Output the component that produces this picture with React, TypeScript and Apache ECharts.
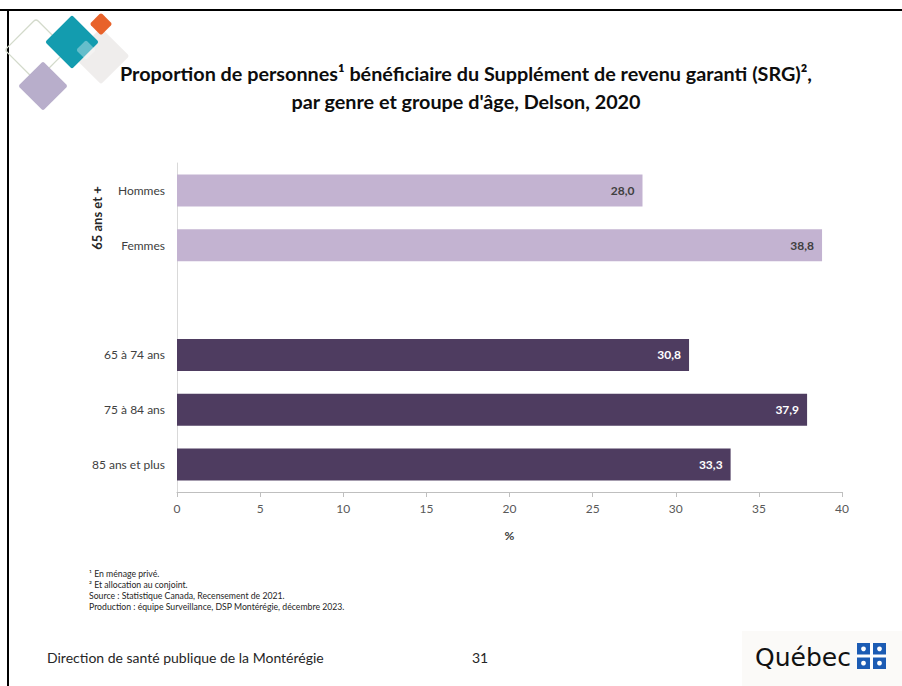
import React, { useEffect, useRef } from "react";
import * as echarts from "echarts";

const categories = ["Hommes", "Femmes", "", "65 à 74 ans", "75 à 84 ans", "85 ans et plus"];
const values: (number | null)[] = [28.0, 38.8, null, 30.8, 37.9, 33.3];
const barColors = ["#C3B3D1", "#C3B3D1", "#C3B3D1", "#4E3C60", "#4E3C60", "#4E3C60"];
const labelColors = ["#404040", "#404040", "#404040", "#FFFFFF", "#FFFFFF", "#FFFFFF"];
const xTicks = { min: 0, max: 40, interval: 5 };
const groupLabel = "65 ans et +";
const titleLines = [
  "Proportion de personnes¹ bénéficiaire du Supplément de revenu garanti (SRG)²,",
  "par genre et groupe d'âge, Delson, 2020",
];
const footnotes = [
  "¹ En ménage privé.",
  "² Et allocation au conjoint.",
  "Source : Statistique Canada, Recensement de 2021.",
  "Production : équipe Surveillance, DSP Montérégie, décembre 2023.",
];
const footerLeft = "Direction de santé publique de la Montérégie";
const pageNumber = "31";
const FONT = "Lato, 'Open Sans', sans-serif";

function diamond(cx: number, cy: number, side: number, fill: string, extra: any = {}) {
  return {
    type: "rect",
    x: cx,
    y: cy,
    rotation: Math.PI / 4,
    shape: { x: -side / 2, y: -side / 2, width: side, height: side, r: 2 },
    style: { fill, ...extra },
    silent: true,
  };
}

export default function App() {
  const ref = useRef<HTMLDivElement>(null);
  useEffect(() => {
    if (!ref.current) return;
    const chart = echarts.init(ref.current, null, { renderer: "svg" });
    const flagX = 857;
    const flagY = 643;
    const flag: any[] = [];
    flag.push({ type: "rect", shape: { x: flagX, y: flagY, width: 29, height: 26 }, style: { fill: "#1C5CB4" } });
    flag.push({ type: "rect", shape: { x: flagX + 13, y: flagY, width: 3, height: 26 }, style: { fill: "#fff" } });
    flag.push({ type: "rect", shape: { x: flagX, y: flagY + 11.5, width: 29, height: 3 }, style: { fill: "#fff" } });
    [[6.5, 5.8], [22.5, 5.8], [6.5, 20.2], [22.5, 20.2]].forEach(([dx, dy]) => {
      flag.push({ type: "circle", shape: { cx: flagX + dx, cy: flagY + dy, r: 2.4 }, style: { fill: "#fff" } });
    });

    chart.setOption({
      animation: false,
      backgroundColor: "#FFFFFF",
      grid: { left: 177, right: 60, top: 163, bottom: 194, containLabel: false },
      xAxis: {
        type: "value",
        min: xTicks.min,
        max: xTicks.max,
        interval: xTicks.interval,
        name: "%",
        nameLocation: "middle",
        nameGap: 37,
        nameTextStyle: { fontFamily: FONT, fontSize: 12, fontWeight: "bold", color: "#404040" },
        axisLine: { show: true, lineStyle: { color: "#BFBFBF", width: 1 } },
        axisTick: { show: true, length: 5, lineStyle: { color: "#BFBFBF" } },
        axisLabel: { fontFamily: FONT, fontSize: 12, color: "#595959", margin: 10 },
        splitLine: { show: false },
      },
      yAxis: {
        type: "category",
        inverse: true,
        data: categories,
        axisLine: { show: true, lineStyle: { color: "#D9D9D9", width: 1 } },
        axisTick: { show: false },
        axisLabel: { fontFamily: FONT, fontSize: 12, color: "#404040", margin: 12 },
      },
      series: [
        {
          type: "bar",
          barWidth: 32,
          data: values.map((v, i) => ({
            value: v,
            itemStyle: { color: barColors[i] },
            label: { color: labelColors[i] },
          })),
          label: {
            show: true,
            position: "insideRight",
            distance: 8,
            fontFamily: FONT,
            fontSize: 12,
            fontWeight: "bold",
            formatter: (p: any) => (p.value == null ? "" : Number(p.value).toFixed(1).replace(".", ",")),
          },
        },
      ],
      graphic: [
        // frame
        { type: "rect", shape: { x: 0, y: 9, width: 902, height: 2 }, style: { fill: "#000" }, silent: true },
        { type: "rect", shape: { x: 7, y: 9, width: 2, height: 677 }, style: { fill: "#000" }, silent: true },
        // logo
        {
          type: "rect",
          x: 36,
          y: 50,
          rotation: Math.PI / 4,
          shape: { x: -22, y: -22, width: 44, height: 44, r: 3 },
          style: { fill: "none", stroke: "#D3DACB", lineWidth: 1.3 },
          silent: true,
        },
        diamond(43, 86, 35, "#B8AECB"),
        diamond(101, 56, 40, "#EFEDEC"),
        diamond(72, 42, 38, "#139CAF"),
        diamond(101, 24, 16, "#E8622A"),
        diamond(86, 50, 14, "rgba(255,255,255,0.35)"),
        // title
        ...titleLines.map((t, i) => ({
          type: "text",
          x: 466,
          y: 73 + i * 28,
          style: {
            text: t,
            fontFamily: FONT,
            fontSize: 19.8,
            fontWeight: "bold",
            fill: "#0D0D0D",
            textAlign: "center",
            textVerticalAlign: "middle",
          },
        })),
        // group label
        {
          type: "text",
          x: 97,
          y: 218,
          rotation: Math.PI / 2,
          style: {
            text: groupLabel,
            fontFamily: FONT,
            fontSize: 13,
            fontWeight: "bold",
            fill: "#262626",
            textAlign: "center",
            textVerticalAlign: "middle",
          },
        },
        // footnotes
        ...footnotes.map((t, i) => ({
          type: "text",
          x: 89,
          y: 573 + i * 11,
          style: { text: t, fontFamily: FONT, fontSize: 8.7, fill: "#262626", textVerticalAlign: "middle" },
        })),
        // footer
        {
          type: "text",
          x: 47,
          y: 657,
          style: { text: footerLeft, fontFamily: FONT, fontSize: 14, fill: "#262626", textVerticalAlign: "middle" },
        },
        {
          type: "text",
          x: 480,
          y: 657,
          style: { text: pageNumber, fontFamily: FONT, fontSize: 14, fill: "#262626", textAlign: "center", textVerticalAlign: "middle" },
        },
        { type: "rect", shape: { x: 742, y: 631, width: 160, height: 55 }, style: { fill: "#FBFAF8" }, silent: true },
        {
          type: "text",
          x: 851,
          y: 657,
          style: {
            text: "Québec",
            fontFamily: "'DejaVu Sans', sans-serif",
            fontSize: 25,
            fill: "#111",
            textAlign: "right",
            textVerticalAlign: "middle",
          },
        },
        ...flag,
      ],
    });
    return () => chart.dispose();
  }, []);
  return (
    <div
      ref={ref}
      style={{ position: "absolute", left: 0, top: 0, width: 902, height: 686 }}
    />
  );
}
